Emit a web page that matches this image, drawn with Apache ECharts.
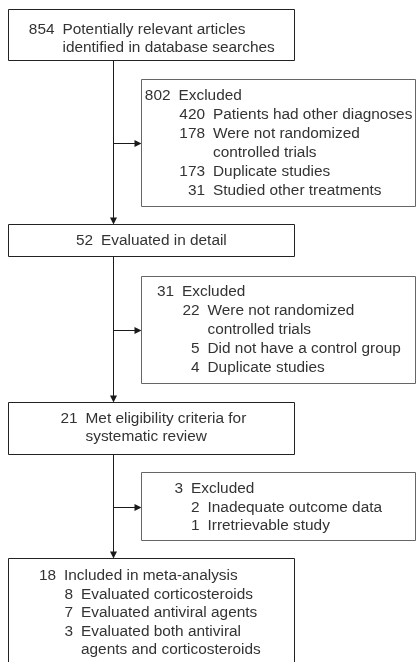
<!DOCTYPE html>
<html>
<head>
<meta charset="utf-8">
<script src="https://cdn.jsdelivr.net/npm/echarts@6/dist/echarts.min.js"></script>
<style>
  html, body { margin: 0; padding: 0; background: #fff; }
  #main { width: 416px; height: 662px; }
</style>
</head>
<body>
<div id="main"></div>
<script>
// flow of studies: counts and labels
var stageCounts = [854, 52, 21, 18];
var stageText = [
  ['Potentially relevant articles', 'identified in database searches'],
  ['Evaluated in detail'],
  ['Met eligibility criteria for', 'systematic review'],
  ['Included in meta-analysis']
];
var excludedCounts = [802, 31, 3];
var reasonCounts = [[420, 178, 173, 31], [22, 5, 4], [2, 1]];
var reasonText = [
  [['Patients had other diagnoses'], ['Were not randomized', 'controlled trials'], ['Duplicate studies'], ['Studied other treatments']],
  [['Were not randomized', 'controlled trials'], ['Did not have a control group'], ['Duplicate studies']],
  [['Inadequate outcome data'], ['Irretrievable study']]
];
var includedCounts = [8, 7, 3];
var includedText = [['Evaluated corticosteroids'], ['Evaluated antiviral agents'], ['Evaluated both antiviral', 'agents and corticosteroids']];

// layout (page pixels, y down)
var mainBox = {x0: 8.5, x1: 294.5};
var sideBox = {x0: 141.5, x1: 415.5};
var stageLayout = [
  {y0: 9.5, y1: 60.5, numX: 54.5, subNumX: 0, top: 30, step: 18},
  {y0: 224.5, y1: 256.5, numX: 93, subNumX: 0, top: 240.5, step: 18.5},
  {y0: 402.5, y1: 454.5, numX: 77.5, subNumX: 0, top: 418.5, step: 18.5},
  {y0: 558.5, y1: 720, numX: 56, subNumX: 73, top: 576, step: 18.5}
];
var sideLayout = [
  {y0: 79.5, y1: 206.5, numX: 170.5, subNumX: 205, top: 96, step: 19},
  {y0: 276.5, y1: 383.5, numX: 174, subNumX: 199.5, top: 292, step: 19},
  {y0: 472.5, y1: 540.5, numX: 183, subNumX: 199.5, top: 489, step: 18.5}
];
var spineX = 113.5;
var gap = 8;
var arrowSize = 7;
var FONT = '15.4px "Liberation Sans", Arial, sans-serif';
var TEXT_COLOR = '#333';

function rowsFor(count, lines, subCounts, subLines) {
  var rows = [];
  lines.forEach(function (t, k) { rows.push({num: k === 0 ? count : null, text: t, sub: false}); });
  (subCounts || []).forEach(function (c, i) {
    subLines[i].forEach(function (t, k) { rows.push({num: k === 0 ? c : null, text: t, sub: true}); });
  });
  return rows;
}

function boxItem(api, box, lay, rows, stroke) {
  var p0 = api.coord([box.x0, lay.y0]);
  var p1 = api.coord([box.x1, lay.y1]);
  var children = [{
    type: 'rect',
    shape: {x: p0[0], y: p0[1], width: p1[0] - p0[0], height: p1[1] - p0[1]},
    style: {fill: '#fff', stroke: stroke, lineWidth: 1}
  }];
  rows.forEach(function (r, k) {
    var y = api.coord([0, lay.top + k * lay.step])[1];
    var nx = r.sub ? lay.subNumX : lay.numX;
    if (r.num !== null) {
      children.push({type: 'text', x: api.coord([nx, 0])[0], y: y,
        style: {text: String(r.num), font: FONT, fill: TEXT_COLOR, align: 'right', verticalAlign: 'middle'}});
    }
    children.push({type: 'text', x: api.coord([nx + gap, 0])[0], y: y,
      style: {text: r.text, font: FONT, fill: TEXT_COLOR, align: 'left', verticalAlign: 'middle'}});
  });
  return {type: 'group', children: children};
}

// connectors
var arrows = [];
for (var i = 0; i < stageLayout.length - 1; i++) {
  arrows.push({coords: [[spineX, stageLayout[i].y1], [spineX, stageLayout[i + 1].y0 - arrowSize / 2]]});
  var midY = Math.round((sideLayout[i].y0 + sideLayout[i].y1) / 2) + 0.5;
  arrows.push({coords: [[spineX, midY], [sideBox.x0 - arrowSize / 2, midY]]});
}

var myChart = echarts.init(document.getElementById('main'));
var option = {
  animation: false,
  grid: {left: 0, right: 0, top: 0, bottom: 0},
  xAxis: {type: 'value', min: 0, max: 416, show: false},
  yAxis: {type: 'value', min: 0, max: 662, inverse: true, show: false},
  series: [
    {
      type: 'lines',
      coordinateSystem: 'cartesian2d',
      silent: true,
      symbol: ['none', 'triangle'],
      symbolSize: arrowSize,
      lineStyle: {color: '#1a1a1a', width: 1, opacity: 1},
      itemStyle: {color: '#1a1a1a'},
      data: arrows,
      z: 1
    },
    {
      type: 'custom',
      silent: true,
      z: 2,
      data: stageCounts.map(function (c, i) { return [i]; }),
      renderItem: function (params, api) {
        var i = api.value(0);
        var rows = i === 3
          ? rowsFor(stageCounts[i], stageText[i], includedCounts, includedText)
          : rowsFor(stageCounts[i], stageText[i]);
        return boxItem(api, mainBox, stageLayout[i], rows, '#222');
      }
    },
    {
      type: 'custom',
      silent: true,
      z: 2,
      data: excludedCounts.map(function (c, i) { return [i]; }),
      renderItem: function (params, api) {
        var i = api.value(0);
        var rows = rowsFor(excludedCounts[i], ['Excluded'], reasonCounts[i], reasonText[i]);
        return boxItem(api, sideBox, sideLayout[i], rows, '#666');
      }
    }
  ]
};
myChart.setOption(option);
</script>
</body>
</html>
